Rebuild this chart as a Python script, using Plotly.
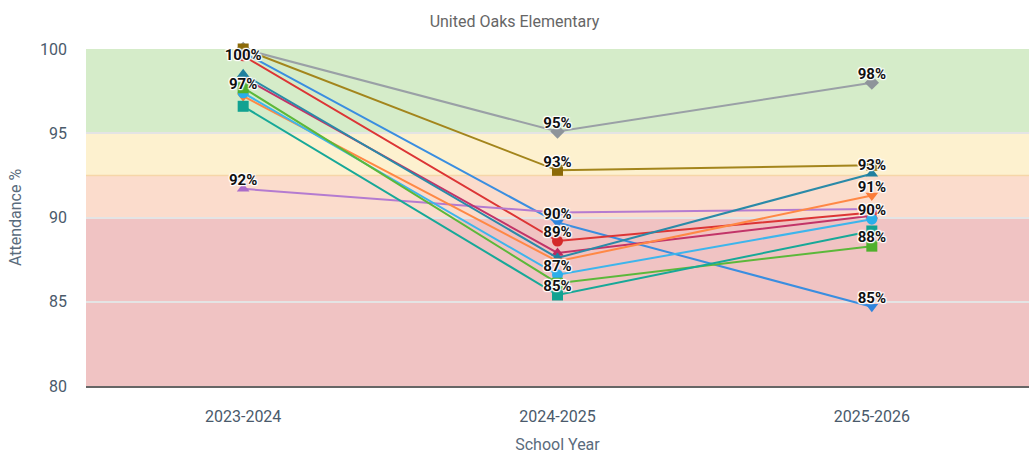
import plotly.graph_objects as go

# School years on the x axis
years = ["2023-2024", "2024-2025", "2025-2026"]

# Attendance % per group, one list per line
gray_vals = [100.0, 95.1, 98.0]
olive_vals = [100.0, 92.8, 93.1]
blue_vals = [99.8, 89.7, 84.7]
red_vals = [99.6, 88.6, 90.3]
purple_vals = [91.7, 90.3, 90.5]
magenta_vals = [98.3, 87.9, 90.1]
darkteal_vals = [98.5, 87.6, 92.6]
orange_vals = [97.2, 87.4, 91.3]
lightblue_vals = [97.4, 86.6, 89.9]
green_vals = [97.7, 86.1, 88.3]
teal_vals = [96.6, 85.4, 89.2]

# Which points carry a value label
gray_lbl = [False, True, True]
olive_lbl = [True, True, False]
blue_lbl = [False, True, True]
red_lbl = [False, True, False]
purple_lbl = [True, False, False]
magenta_lbl = [False, False, False]
darkteal_lbl = [False, False, True]
orange_lbl = [False, False, True]
lightblue_lbl = [True, True, True]
green_lbl = [False, False, True]
teal_lbl = [False, True, False]

series = [
    (gray_vals, gray_lbl, "#9aa0a6", "#8e949a", "diamond"),
    (olive_vals, olive_lbl, "#a3851c", "#8c6a08", "square"),
    (blue_vals, blue_lbl, "#3a8ee0", "#2f84dc", "triangle-down"),
    (red_vals, red_lbl, "#dc3535", "#d42a2a", "circle"),
    (purple_vals, purple_lbl, "#b47bd0", "#aa6cc9", "triangle-up"),
    (magenta_vals, magenta_lbl, "#c23468", "#bb2a60", "triangle-up"),
    (darkteal_vals, darkteal_lbl, "#2a8aa8", "#20809f", "triangle-up"),
    (orange_vals, orange_lbl, "#ff8845", "#fb7c38", "triangle-down"),
    (lightblue_vals, lightblue_lbl, "#3db5ec", "#2aaee9", "circle"),
    (green_vals, green_lbl, "#5cb83a", "#4fb02c", "square"),
    (teal_vals, teal_lbl, "#17a898", "#12a291", "square"),
]

fig = go.Figure()

for vals, lbl, color, mcolor, symbol in series:
    fig.add_trace(go.Scatter(
        x=years, y=vals, mode="lines+markers",
        line=dict(color=color, width=2),
        marker=dict(color=mcolor, symbol=symbol, size=11),
        cliponaxis=False, showlegend=False, hoverinfo="x+y",
    ))

halo = ("white 1px 1px 1px, white -1px -1px 1px, white 1px -1px 1px, "
        "white -1px 1px 1px, white 0px 1px 1px, white 0px -1px 1px")

# Value labels drawn after all lines so they sit on top
for vals, lbl, color, mcolor, symbol in series:
    texts = [f"{round(v)}%" if show else "" for v, show in zip(vals, lbl)]
    positions = ["bottom center" if v >= 100 else "top center" for v in vals]
    fig.add_trace(go.Scatter(
        x=years, y=vals, mode="text", text=texts,
        textposition=positions,
        textfont=dict(family="Roboto", size=15, color="#111111",
                      weight="bold", shadow=halo),
        cliponaxis=False, showlegend=False, hoverinfo="skip",
    ))

# Attendance bands
bands = [
    (95, 100, "#d5ecc9"),
    (92.5, 95, "#fdf1cf"),
    (90, 92.5, "#fbdccc"),
    (80, 90, "#f0c3c3"),
]
for y0, y1, c in bands:
    fig.add_shape(type="rect", xref="paper", x0=0, x1=1, yref="y",
                  y0=y0, y1=y1, fillcolor=c, line_width=0, layer="below")
fig.add_shape(type="line", xref="paper", x0=0, x1=1, yref="y",
              y0=92.5, y1=92.5, line=dict(color="#f6d6a8", width=1.5),
              layer="below")

fig.update_layout(
    width=1029, height=459,
    margin=dict(l=86, r=0, t=49, b=73),
    paper_bgcolor="white", plot_bgcolor="white",
    font=dict(family="Roboto", color="#4a5a6b"),
    title=dict(text="United Oaks Elementary", x=0.5, xanchor="center",
               y=1 - 21 / 459, yanchor="middle",
               font=dict(family="Roboto", size=16, color="#666666")),
    xaxis=dict(
        type="category", range=[-0.5, 2.5],
        showgrid=False, zeroline=False,
        showline=True, linecolor="#666666", linewidth=2,
        ticks="", ticklabelstandoff=15,
        tickfont=dict(size=16, color="#4a5a6b"),
        title=dict(text="School Year", standoff=14,
                   font=dict(size=16, color="#5a6b7c")),
    ),
    yaxis=dict(
        range=[80, 100], dtick=5, tick0=80,
        showgrid=True, gridcolor="#e4e4e4", gridwidth=1.5,
        zeroline=False, showline=False,
        ticks="", ticklabelstandoff=18,
        tickfont=dict(size=16, color="#4a5a6b"),
        title=dict(text="Attendance %", standoff=14,
                   font=dict(size=16, color="#5a6b7c")),
    ),
)

fig.write_html("out.html")
